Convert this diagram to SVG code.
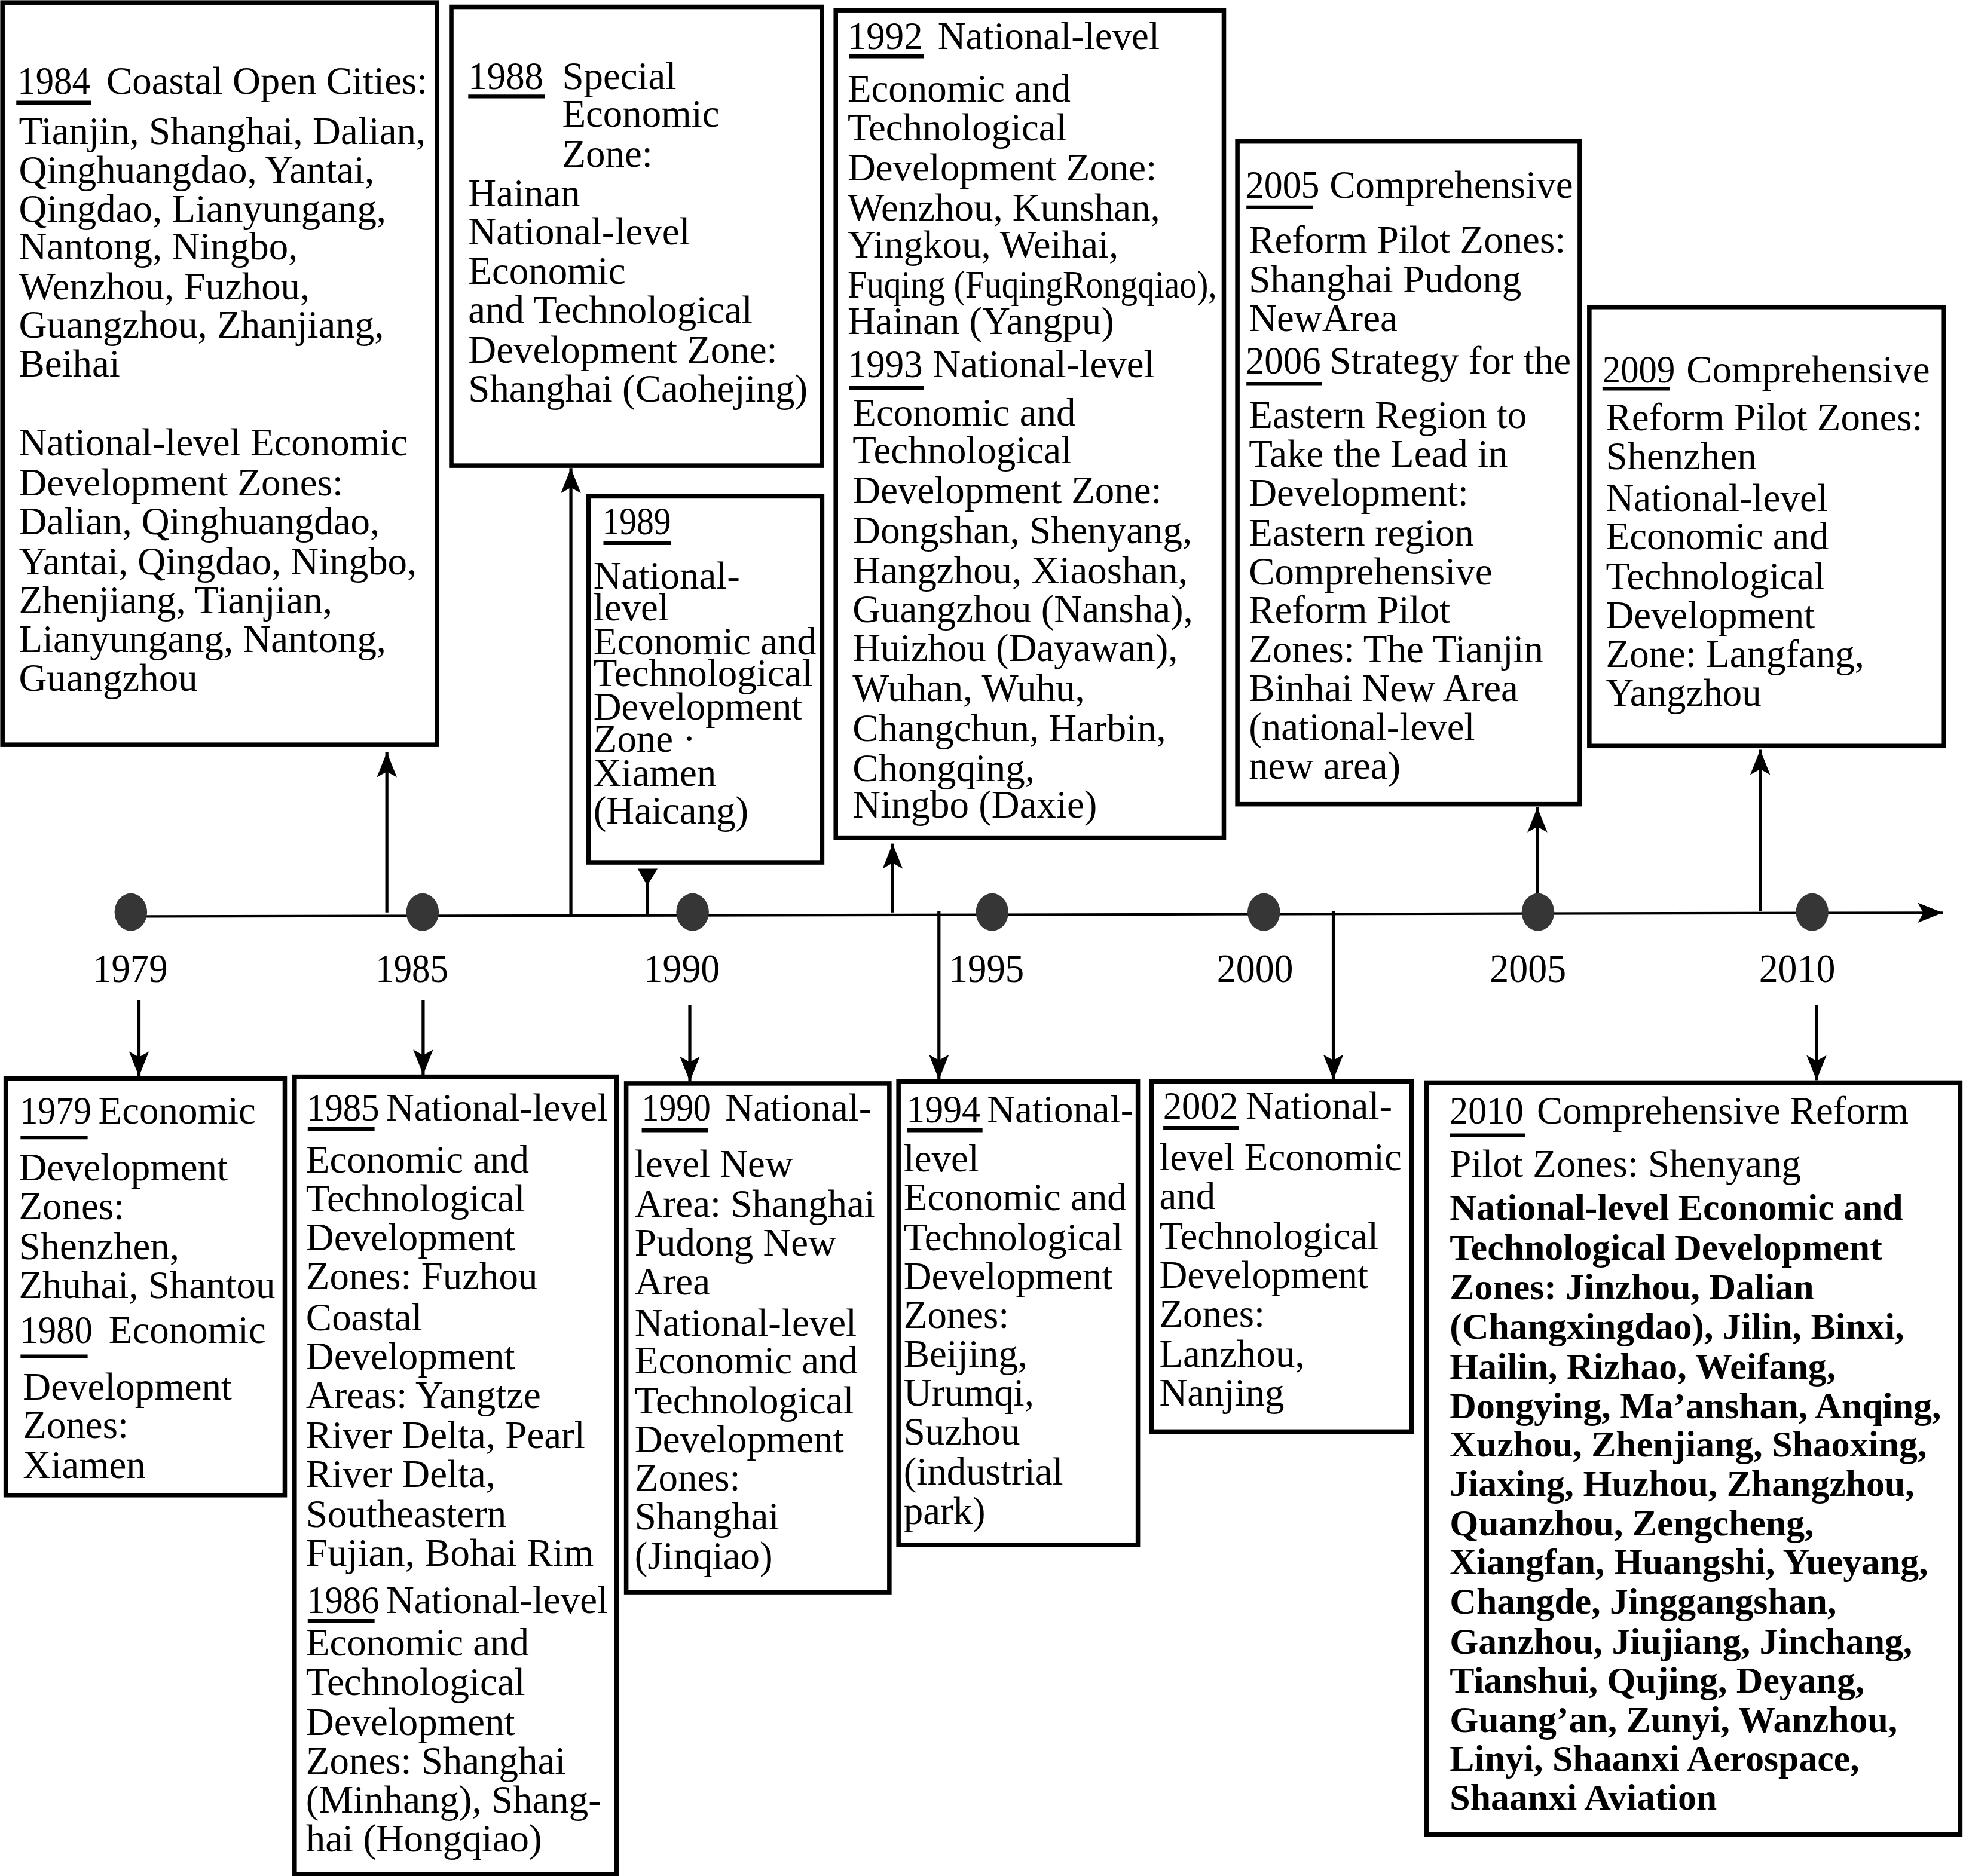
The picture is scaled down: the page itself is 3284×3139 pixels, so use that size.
<svg xmlns="http://www.w3.org/2000/svg" width="3284" height="3139" viewBox="0 0 3284 3139">
<style>
.box{fill:#fff;stroke:#000;stroke-width:3.6}
.t{font-family:"Liberation Serif","Times New Roman",serif;font-size:31px;fill:#000}
.b{font-weight:bold;font-size:29.5px}
.ul{stroke:#000;stroke-width:3}
.c{stroke:#000;stroke-width:2.5;fill:none}
.axis{stroke:#000;stroke-width:2;fill:none}
.dot{fill:#363636}
.yl{font-family:"Liberation Serif","Times New Roman",serif;font-size:32px;fill:#000}
</style>
<defs>
<marker id="ah" markerUnits="userSpaceOnUse" markerWidth="20" markerHeight="16" viewBox="0 0 20 16" refX="20" refY="8" orient="auto"><path d="M0,0 L20,8 L0,16 L4.5,8 Z" fill="#000"/></marker>
</defs>
<rect width="3284" height="3139" fill="#fff"/>
<g transform="scale(2.0944)">

<g id="connectors">
<path class="axis" d="M104,732.2 L1551.8,729.2" marker-end="url(#ah)"/>
<path class="c" d="M309,729 V601" marker-end="url(#ah)"/>
<path class="c" d="M456,730.5 V374" marker-end="url(#ah)"/>
<path class="c" d="M517,730.8 V704"/>
<polygon points="509.3,694 525.2,694 517,707.5" fill="#000"/>
<path class="c" d="M713,729 V674" marker-end="url(#ah)"/>
<path class="c" d="M1228,729 V645" marker-end="url(#ah)"/>
<path class="c" d="M1406,728 V599" marker-end="url(#ah)"/>
<path class="c" d="M111,799 V860" marker-end="url(#ah)"/>
<path class="c" d="M338,799 V858.5" marker-end="url(#ah)"/>
<path class="c" d="M551,803 V864" marker-end="url(#ah)"/>
<path class="c" d="M750,728 V862.5" marker-end="url(#ah)"/>
<path class="c" d="M1065,728 V862.5" marker-end="url(#ah)"/>
<path class="c" d="M1451,803 V863" marker-end="url(#ah)"/>
</g>

<g id="timeline-dots">
<ellipse class="dot" cx="104.5" cy="728.7" rx="13" ry="15"/>
<ellipse class="dot" cx="337.5" cy="728.7" rx="13" ry="15"/>
<ellipse class="dot" cx="553.2" cy="728.7" rx="13" ry="15"/>
<ellipse class="dot" cx="792.5" cy="728.7" rx="13" ry="15"/>
<ellipse class="dot" cx="1009.5" cy="728.7" rx="13" ry="15"/>
<ellipse class="dot" cx="1228.5" cy="728.7" rx="13" ry="15"/>
<ellipse class="dot" cx="1447.5" cy="728.7" rx="13" ry="15"/>
</g>

<g id="year-labels">
<text class="yl" x="74" y="784.7" textLength="60" lengthAdjust="spacingAndGlyphs">1979</text>
<text class="yl" x="300" y="784.7" textLength="58" lengthAdjust="spacingAndGlyphs">1985</text>
<text class="yl" x="514" y="784.7" textLength="61" lengthAdjust="spacingAndGlyphs">1990</text>
<text class="yl" x="758" y="784.7" textLength="60" lengthAdjust="spacingAndGlyphs">1995</text>
<text class="yl" x="972" y="784.7" textLength="61" lengthAdjust="spacingAndGlyphs">2000</text>
<text class="yl" x="1190" y="784.7" textLength="61" lengthAdjust="spacingAndGlyphs">2005</text>
<text class="yl" x="1405" y="784.7" textLength="61" lengthAdjust="spacingAndGlyphs">2010</text>
</g>

<g id="n1984">
<rect class="box" x="2" y="2" width="347" height="593"/>
<text class="t" x="14" y="75" textLength="58" lengthAdjust="spacingAndGlyphs">1984</text>
<line class="ul" x1="13" y1="82" x2="73" y2="82"/>
<text class="t" x="85" y="75">Coastal Open Cities:</text>
<text class="t"><tspan x="15" y="115">Tianjin, Shanghai, Dalian,</tspan><tspan x="15" y="146">Qinghuangdao, Yantai,</tspan><tspan x="15" y="177">Qingdao, Lianyungang,</tspan><tspan x="15" y="207">Nantong, Ningbo,</tspan><tspan x="15" y="239">Wenzhou, Fuzhou,</tspan><tspan x="15" y="270">Guangzhou, Zhanjiang,</tspan><tspan x="15" y="301">Beihai</tspan><tspan x="15" y="364">National-level Economic</tspan><tspan x="15" y="396">Development Zones:</tspan><tspan x="15" y="427">Dalian, Qinghuangdao,</tspan><tspan x="15" y="459">Yantai, Qingdao, Ningbo,</tspan><tspan x="15" y="490">Zhenjiang, Tianjian,</tspan><tspan x="15" y="521">Lianyungang, Nantong,</tspan><tspan x="15" y="552">Guangzhou</tspan></text>
</g>

<g id="n1988">
<rect class="box" x="360.5" y="5.5" width="296" height="366.5"/>
<text class="t" x="374" y="71" textLength="60" lengthAdjust="spacingAndGlyphs">1988</text>
<line class="ul" x1="374" y1="77" x2="435" y2="77"/>
<text class="t"><tspan x="449" y="71">Special</tspan><tspan x="449" y="101">Economic</tspan><tspan x="449" y="133">Zone:</tspan><tspan x="374" y="164.5">Hainan</tspan><tspan x="374" y="195.5">National-level</tspan><tspan x="374" y="227">Economic</tspan><tspan x="374" y="258">and Technological</tspan><tspan x="374" y="290">Development Zone:</tspan><tspan x="374" y="321">Shanghai (Caohejing)</tspan></text>
</g>

<g id="n1989">
<rect class="box" x="470" y="396.5" width="186.7" height="292.5"/>
<text class="t" x="481" y="427" textLength="55" lengthAdjust="spacingAndGlyphs">1989</text>
<line class="ul" x1="482" y1="434" x2="536" y2="434"/>
<text class="t"><tspan x="474" y="470.5">National-</tspan><tspan x="474" y="495.7">level</tspan><tspan x="474" y="523">Economic and</tspan><tspan x="474" y="548">Technological</tspan><tspan x="474" y="574.7">Development</tspan><tspan x="474" y="600.7">Zone ·</tspan><tspan x="474" y="628">Xiamen</tspan><tspan x="474" y="658">(Haicang)</tspan></text>
</g>

<g id="n1992">
<rect class="box" x="667.6" y="8.2" width="310" height="661"/>
<text class="t" x="677" y="39" textLength="60" lengthAdjust="spacingAndGlyphs">1992</text>
<line class="ul" x1="678" y1="45" x2="738" y2="45"/>
<text class="t" x="749" y="39">National-level</text>
<text class="t"><tspan x="677" y="81">Economic and</tspan><tspan x="677" y="112">Technological</tspan><tspan x="677" y="144">Development Zone:</tspan><tspan x="677" y="176">Wenzhou, Kunshan,</tspan><tspan x="677" y="206">Yingkou, Weihai,</tspan></text>
<text class="t" x="677" y="238" textLength="295" lengthAdjust="spacingAndGlyphs">Fuqing (FuqingRongqiao),</text>
<text class="t" x="677" y="267">Hainan (Yangpu)</text>
<text class="t" x="677" y="301.5" textLength="60" lengthAdjust="spacingAndGlyphs">1993</text>
<line class="ul" x1="678" y1="310" x2="738" y2="310"/>
<text class="t" x="745" y="301.5">National-level</text>
<text class="t"><tspan x="681" y="340">Economic and</tspan><tspan x="681" y="370">Technological</tspan><tspan x="681" y="402">Development Zone:</tspan><tspan x="681" y="434">Dongshan, Shenyang,</tspan><tspan x="681" y="466">Hangzhou, Xiaoshan,</tspan><tspan x="681" y="497">Guangzhou (Nansha),</tspan><tspan x="681" y="528">Huizhou (Dayawan),</tspan><tspan x="681" y="560">Wuhan, Wuhu,</tspan><tspan x="681" y="592">Changchun, Harbin,</tspan><tspan x="681" y="624">Chongqing,</tspan><tspan x="681" y="653">Ningbo (Daxie)</tspan></text>
</g>

<g id="n2005">
<rect class="box" x="988.4" y="113" width="273.5" height="529.5"/>
<text class="t" x="995" y="158" textLength="59" lengthAdjust="spacingAndGlyphs">2005</text>
<line class="ul" x1="995.6" y1="165.6" x2="1048.6" y2="165.6"/>
<text class="t" x="1062" y="158">Comprehensive</text>
<text class="t"><tspan x="997.5" y="202">Reform Pilot Zones:</tspan><tspan x="997.5" y="233.6">Shanghai Pudong</tspan><tspan x="997.5" y="264.3">NewArea</tspan></text>
<text class="t" x="995" y="298.3" textLength="60" lengthAdjust="spacingAndGlyphs">2006</text>
<line class="ul" x1="995.6" y1="306.7" x2="1055.8" y2="306.7"/>
<text class="t" x="1062" y="298.3">Strategy for the</text>
<text class="t"><tspan x="997.5" y="342">Eastern Region to</tspan><tspan x="997.5" y="373">Take the Lead in</tspan><tspan x="997.5" y="404">Development:</tspan><tspan x="997.5" y="436">Eastern region</tspan><tspan x="997.5" y="467">Comprehensive</tspan><tspan x="997.5" y="497.4">Reform Pilot</tspan><tspan x="997.5" y="529">Zones: The Tianjin</tspan><tspan x="997.5" y="560">Binhai New Area</tspan><tspan x="997.5" y="591">(national-level</tspan><tspan x="997.5" y="622">new area)</tspan></text>
</g>

<g id="n2009">
<rect class="box" x="1269.5" y="245.3" width="283.3" height="350.7"/>
<text class="t" x="1280" y="305.6" textLength="58" lengthAdjust="spacingAndGlyphs">2009</text>
<line class="ul" x1="1280" y1="310.5" x2="1334" y2="310.5"/>
<text class="t" x="1347" y="305.6">Comprehensive</text>
<text class="t"><tspan x="1282.7" y="344">Reform Pilot Zones:</tspan><tspan x="1282.7" y="375">Shenzhen</tspan><tspan x="1282.7" y="408">National-level</tspan><tspan x="1282.7" y="439">Economic and</tspan><tspan x="1282.7" y="470.7">Technological</tspan><tspan x="1282.7" y="501.8">Development</tspan><tspan x="1282.7" y="532.8">Zone: Langfang,</tspan><tspan x="1282.7" y="564">Yangzhou</tspan></text>
</g>

<g id="n1979">
<rect class="box" x="4.6" y="861.5" width="222.9" height="333"/>
<text class="t" x="16" y="897.5" textLength="57" lengthAdjust="spacingAndGlyphs">1979</text>
<line class="ul" x1="16.4" y1="908.7" x2="70" y2="908.7"/>
<text class="t" x="78.6" y="897.5">Economic</text>
<text class="t"><tspan x="15" y="943">Development</tspan><tspan x="15" y="974">Zones:</tspan><tspan x="15" y="1006">Shenzhen,</tspan><tspan x="15" y="1037">Zhuhai, Shantou</tspan></text>
<text class="t" x="16" y="1073" textLength="58" lengthAdjust="spacingAndGlyphs">1980</text>
<line class="ul" x1="16.4" y1="1083.7" x2="70" y2="1083.7"/>
<text class="t" x="86.8" y="1073">Economic</text>
<text class="t"><tspan x="18.3" y="1118">Development</tspan><tspan x="18.3" y="1148.7">Zones:</tspan><tspan x="18.3" y="1181">Xiamen</tspan></text>
</g>

<g id="n1985">
<rect class="box" x="235.3" y="860.2" width="257.2" height="637.3"/>
<text class="t" x="245" y="895.4" textLength="58" lengthAdjust="spacingAndGlyphs">1985</text>
<line class="ul" x1="245.8" y1="902" x2="299.2" y2="902"/>
<text class="t" x="308.4" y="895.4">National-level</text>
<text class="t"><tspan x="244.4" y="937">Economic and</tspan><tspan x="244.4" y="968">Technological</tspan><tspan x="244.4" y="999">Development</tspan><tspan x="244.4" y="1030">Zones: Fuzhou</tspan><tspan x="244.4" y="1063">Coastal</tspan><tspan x="244.4" y="1094">Development</tspan><tspan x="244.4" y="1125">Areas: Yangtze</tspan><tspan x="244.4" y="1157">River Delta, Pearl</tspan><tspan x="244.4" y="1188">River Delta,</tspan><tspan x="244.4" y="1220">Southeastern</tspan><tspan x="244.4" y="1251">Fujian, Bohai Rim</tspan></text>
<text class="t" x="245" y="1288.5" textLength="58" lengthAdjust="spacingAndGlyphs">1986</text>
<line class="ul" x1="245.8" y1="1295" x2="299.2" y2="1295"/>
<text class="t" x="308.4" y="1288.5">National-level</text>
<text class="t"><tspan x="244.4" y="1322.5">Economic and</tspan><tspan x="244.4" y="1354">Technological</tspan><tspan x="244.4" y="1386">Development</tspan><tspan x="244.4" y="1417">Zones: Shanghai</tspan><tspan x="244.4" y="1448">(Minhang), Shang-</tspan><tspan x="244.4" y="1479">hai (Hongqiao)</tspan></text>
</g>

<g id="n1990">
<rect class="box" x="500.2" y="865.6" width="210.2" height="406.4"/>
<text class="t" x="512.6" y="895.4" textLength="55" lengthAdjust="spacingAndGlyphs">1990</text>
<line class="ul" x1="512.6" y1="903" x2="565.6" y2="903"/>
<text class="t" x="579.3" y="895.4">National-</text>
<text class="t"><tspan x="507" y="940">level New</tspan><tspan x="507" y="972">Area: Shanghai</tspan><tspan x="507" y="1003">Pudong New</tspan><tspan x="507" y="1034">Area</tspan><tspan x="507" y="1067">National-level</tspan><tspan x="507" y="1097.4">Economic and</tspan><tspan x="507" y="1129">Technological</tspan><tspan x="507" y="1160">Development</tspan><tspan x="507" y="1191">Zones:</tspan><tspan x="507" y="1222">Shanghai</tspan><tspan x="507" y="1253.4">(Jinqiao)</tspan></text>
</g>

<g id="n1994">
<rect class="box" x="717.7" y="864.1" width="191.2" height="370.2"/>
<text class="t" x="724" y="896.5" textLength="59" lengthAdjust="spacingAndGlyphs">1994</text>
<line class="ul" x1="724.5" y1="903" x2="784.8" y2="903"/>
<text class="t" x="788.4" y="896.5">National-</text>
<text class="t"><tspan x="721.8" y="936">level</tspan><tspan x="721.8" y="967">Economic and</tspan><tspan x="721.8" y="999">Technological</tspan><tspan x="721.8" y="1030">Development</tspan><tspan x="721.8" y="1061">Zones:</tspan><tspan x="721.8" y="1092">Beijing,</tspan><tspan x="721.8" y="1123">Urumqi,</tspan><tspan x="721.8" y="1154">Suzhou</tspan><tspan x="721.8" y="1186">(industrial</tspan><tspan x="721.8" y="1217.5">park)</tspan></text>
</g>

<g id="n2002">
<rect class="box" x="919.9" y="864.1" width="207.5" height="279.6"/>
<text class="t" x="929" y="894" textLength="60" lengthAdjust="spacingAndGlyphs">2002</text>
<line class="ul" x1="929.2" y1="901" x2="989.5" y2="901"/>
<text class="t" x="995" y="894">National-</text>
<text class="t"><tspan x="926" y="935">level Economic</tspan><tspan x="926" y="966">and</tspan><tspan x="926" y="998">Technological</tspan><tspan x="926" y="1029">Development</tspan><tspan x="926" y="1060">Zones:</tspan><tspan x="926" y="1092">Lanzhou,</tspan><tspan x="926" y="1123">Nanjing</tspan></text>
</g>

<g id="n2010">
<rect class="box" x="1139.4" y="864.9" width="426.4" height="600.6"/>
<text class="t" x="1158" y="897.4" textLength="59" lengthAdjust="spacingAndGlyphs">2010</text>
<line class="ul" x1="1158" y1="907" x2="1218" y2="907"/>
<text class="t" x="1227.6" y="897.4">Comprehensive Reform</text>
<text class="t" x="1158" y="940">Pilot Zones: Shenyang</text>
<text class="t b"><tspan x="1158" y="974.6">National-level Economic and</tspan><tspan x="1158" y="1006.3">Technological Development</tspan><tspan x="1158" y="1037.9">Zones: Jinzhou, Dalian</tspan><tspan x="1158" y="1069.6">(Changxingdao), Jilin, Binxi,</tspan><tspan x="1158" y="1101.3">Hailin, Rizhao, Weifang,</tspan><tspan x="1158" y="1133">Dongying, Ma’anshan, Anqing,</tspan><tspan x="1158" y="1163.8">Xuzhou, Zhenjiang, Shaoxing,</tspan><tspan x="1158" y="1195.1">Jiaxing, Huzhou, Zhangzhou,</tspan><tspan x="1158" y="1226.8">Quanzhou, Zengcheng,</tspan><tspan x="1158" y="1257.7">Xiangfan, Huangshi, Yueyang,</tspan><tspan x="1158" y="1289.3">Changde, Jinggangshan,</tspan><tspan x="1158" y="1321">Ganzhou, Jiujiang, Jinchang,</tspan><tspan x="1158" y="1352">Tianshui, Qujing, Deyang,</tspan><tspan x="1158" y="1383.5">Guang’an, Zunyi, Wanzhou,</tspan><tspan x="1158" y="1414.8">Linyi, Shaanxi Aerospace,</tspan><tspan x="1158" y="1445.7">Shaanxi Aviation</tspan></text>
</g>

</g>
</svg>
